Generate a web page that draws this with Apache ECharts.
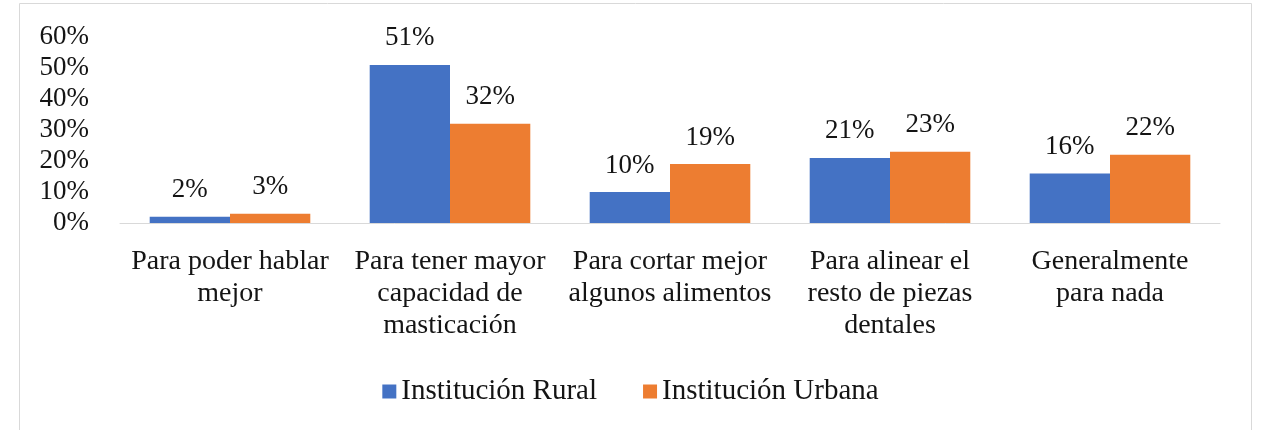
<!DOCTYPE html>
<html lang="es">
<head>
    <meta charset="UTF-8">
    <title>Institución Rural vs Urbana</title>
    <style>
        html, body, #main {
            width: 100%;
            height: 100%;
            margin: 0;
            padding: 0;
            background: #fff;
        }
    </style>
    <script src="https://cdn.jsdelivr.net/npm/echarts@6/dist/echarts.min.js"></script>
</head>
<body>
    <div id="main"></div>
    <script>
        // categories (line breaks as in the original labels)
        const categories = [
            'Para poder hablar\nmejor',
            'Para tener mayor\ncapacidad de\nmasticación',
            'Para cortar mejor\nalgunos alimentos',
            'Para alinear el\nresto de piezas\ndentales',
            'Generalmente\npara nada'
        ];
        const rural = [2, 51, 10, 21, 16];
        const urbana = [3, 32, 19, 23, 22];
        const seriesNames = ['Institución Rural', 'Institución Urbana'];

        const font = 'Liberation Serif';
        const textColor = '#141414';
        const fs = 27;

        var chart = echarts.init(document.getElementById('main'));

        var labelOpt = {
            show: true,
            position: 'top',
            distance: 13,
            fontFamily: font,
            fontSize: fs,
            color: textColor,
            formatter: '{c}%'
        };

        var option = {
            animation: false,
            graphic: [{
                type: 'rect',
                shape: { x: 19.5, y: 3.5, width: 1232, height: 440 },
                style: { fill: 'none', stroke: '#d9d9d9', lineWidth: 1 },
                silent: true
            }],
            grid: { left: 120, right: 41, top: 37, bottom: 207 },
            legend: {
                data: seriesNames,
                top: 372,
                left: 'center',
                itemWidth: 14,
                itemHeight: 14,
                itemGap: 46,
                icon: 'rect',
                textStyle: { fontFamily: font, fontSize: 29, color: textColor }
            },
            xAxis: {
                type: 'category',
                data: categories,
                axisLine: { lineStyle: { color: '#d9d9d9', width: 1 } },
                axisTick: { show: false },
                axisLabel: {
                    interval: 0,
                    margin: 23,
                    fontFamily: font,
                    fontSize: 28,
                    lineHeight: 32,
                    color: textColor
                }
            },
            yAxis: {
                type: 'value',
                min: 0,
                max: 60,
                interval: 10,
                axisLine: { show: false },
                axisTick: { show: false },
                splitLine: { show: false },
                axisLabel: {
                    margin: 31,
                    fontFamily: font,
                    fontSize: fs,
                    color: textColor,
                    formatter: '{value}%'
                }
            },
            series: [
                {
                    name: seriesNames[0],
                    type: 'bar',
                    data: rural,
                    barGap: '0%',
                    barCategoryGap: '27%',
                    itemStyle: { color: '#4472C4' },
                    label: labelOpt
                },
                {
                    name: seriesNames[1],
                    type: 'bar',
                    data: urbana,
                    itemStyle: { color: '#ED7D31' },
                    label: labelOpt
                }
            ]
        };

        chart.setOption(option);
    </script>
</body>
</html>
